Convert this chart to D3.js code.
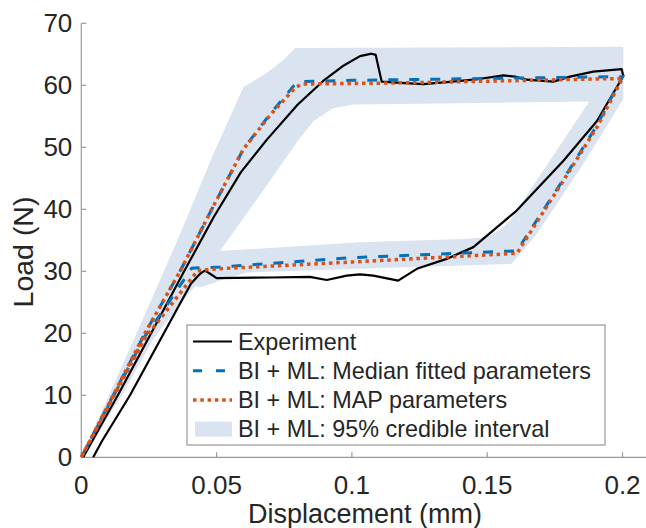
<!DOCTYPE html>
<html>
<head>
<meta charset="utf-8">
<script src="https://cdn.jsdelivr.net/npm/d3@7"></script>
<style>
html,body{margin:0;padding:0;background:#fff;}
svg{display:block;font-family:"Liberation Sans",Arial,Helvetica,sans-serif;}
</style>
</head>
<body>
<svg id="chart" width="646" height="528"></svg>
<script>
// ---- data ----
const xTicks = [0, 0.05, 0.1, 0.15, 0.2];
const xTickLabels = ["0", "0.05", "0.1", "0.15", "0.2"];
const yTicks = [0, 10, 20, 30, 40, 50, 60, 70];
const yTickLabels = ["0", "10", "20", "30", "40", "50", "60", "70"];

// Experiment (loading -> plateau -> unloading -> lower plateau -> back to zero)
const expX = [0.0007,0.0135,0.0258,0.038,0.049,0.059,0.0685,0.08,0.0894,0.097,0.103,0.1073,0.1088,0.111,0.118,0.1264,0.135,0.145,0.156,0.1603,0.1646,0.1744,0.1806,0.1892,0.1997,0.2003,
  0.1905,0.1781,0.1609,0.1449,0.135,0.124,0.1171,0.1079,0.103,0.0981,0.0907,0.0845,0.07,0.05,0.0476,0.0457,0.0439,0.0405,0.0305,0.018,0.0075,0.0044];
const expY = [0,10,20,30,38.8,46,51.2,56.9,60.7,63.2,64.7,65.1,64.9,60.6,60.4,60.2,60.5,60.9,61.6,61.4,60.9,60.6,61.4,62.2,62.6,61.5,
  54.2,47.8,39.8,33.9,32.0,30.4,28.5,29.3,29.5,29.3,28.6,29.1,29.0,28.9,29.6,30.1,29.6,28,20,10,2.5,0];

// BI + ML: Median fitted parameters
const medX = [0,0.0118,0.0235,0.0365,0.0482,0.0599,0.07,0.0785,0.0808,0.1,0.15,0.2,0.1985,0.1905,0.1781,0.161,0.1,0.0513,0.0408,0.03,0.0235,0.0118,0];
const medY = [0,10,20,30,40,49.7,55.5,59.9,60.6,60.8,61.1,61.4,60.2,53.5,44.8,33.3,32.2,30.7,30.5,23.5,19.5,9.8,0];

// BI + ML: MAP parameters
const mapX = [0,0.0118,0.0235,0.0365,0.0482,0.0599,0.07,0.079,0.0815,0.12,0.2,0.1985,0.1905,0.1781,0.161,0.1,0.05,0.043,0.03,0.0235,0.0118,0];
const mapY = [0,10,20,30,40,49.7,55.3,59.6,60.2,60.4,61.1,59.9,53.2,44.6,32.9,31.5,30.4,30.1,22.8,19.2,9.7,0];

// BI + ML: 95% credible interval (outer boundary and inner hole)
const ciOuterX = [0,0.0242,0.0365,0.0488,0.0599,0.0685,0.0745,0.079,0.2003,0.2003,0.1855,0.1683,0.159,0.103,0.0611,0.0513,0.0439,0.042,0.0272,0.0143,0];
const ciOuterY = [0,23.7,36,48.9,59.7,62,64,66,66.2,57.8,47.3,36.0,31.2,30.4,29.8,28.5,27.4,27.6,19.5,9.5,0];
const ciInnerX = [0.0513,0.0655,0.08,0.0857,0.093,0.1005,0.14,0.1877,0.1584,0.1559,0.15,0.1412,0.103,0.0525];
const ciInnerY = [33.3,42,51,54.2,56.3,56.9,57.1,57.4,38.2,37.1,35.5,35.2,34.7,33.3];

const legendLabels = ["Experiment","BI + ML: Median fitted parameters","BI + ML: MAP parameters","BI + ML: 95% credible interval"];

// ---- colours ----
const cBlue = "#0072BD", cRed = "#D95319", cBand = "#DAE3F0", cAxis = "#9a9a9a", cText = "#262626";

const svg = d3.select("#chart");
const x = d3.scaleLinear().domain([0, 0.2]).range([81.3, 622.5]);
const y = d3.scaleLinear().domain([0, 70]).range([457.3, 23.3]);

const zip = (a, b) => a.map((v, i) => [v, b[i]]);
const line = d3.line().x(d => x(d[0])).y(d => y(d[1]));

// credible interval band (even-odd hole)
const outerPts = zip(ciOuterX, ciOuterY), innerPts = zip(ciInnerX, ciInnerY);
svg.append("path")
  .attr("d", line(outerPts) + "Z" + line(innerPts) + "Z")
  .attr("fill", cBand).attr("fill-rule", "evenodd").attr("stroke", "none");

// axes
const gx = svg.append("g").attr("transform", `translate(0,${y(0)})`);
gx.append("line").attr("x1", x(0)).attr("x2", 646).attr("stroke", cAxis).attr("stroke-width", 1.2);
gx.selectAll("line.t").data(xTicks).join("line").attr("class","t")
  .attr("x1", d => x(d)).attr("x2", d => x(d)).attr("y1", 0).attr("y2", -5)
  .attr("stroke", cAxis).attr("stroke-width", 1.2);
gx.selectAll("text").data(xTicks).join("text")
  .attr("x", d => x(d)).attr("y", 36.5).attr("text-anchor", "middle")
  .attr("font-size", 26).attr("fill", cText)
  .text((d, i) => xTickLabels[i]);

const gy = svg.append("g").attr("transform", `translate(${x(0)},0)`);
gy.append("line").attr("y1", y(0)).attr("y2", y(70)).attr("stroke", cAxis).attr("stroke-width", 1.2);
gy.selectAll("line.t").data(yTicks).join("line").attr("class","t")
  .attr("y1", d => y(d)).attr("y2", d => y(d)).attr("x1", 0).attr("x2", 5)
  .attr("stroke", cAxis).attr("stroke-width", 1.2);
gy.selectAll("text").data(yTicks).join("text")
  .attr("x", -9).attr("y", d => y(d)).attr("dy", "0.35em").attr("text-anchor", "end")
  .attr("font-size", 26).attr("fill", cText)
  .text((d, i) => yTickLabels[i]);

// axis labels
svg.append("text").attr("x", 365).attr("y", 522.5).attr("text-anchor", "middle")
  .attr("font-size", 27).attr("fill", cText).text("Displacement (mm)");
svg.append("text").attr("transform", "translate(33,252) rotate(-90)").attr("text-anchor", "middle")
  .attr("font-size", 28.5).attr("fill", cText).text("Load (N)");

// lines
svg.append("path").attr("d", line(zip(expX, expY))).attr("fill", "none")
  .attr("stroke", "#000").attr("stroke-width", 2.2).attr("stroke-linejoin", "round");
svg.append("path").attr("d", line(zip(medX, medY))).attr("fill", "none")
  .attr("stroke", cBlue).attr("stroke-width", 3).attr("stroke-dasharray", "10,11");
svg.append("path").attr("d", line(zip(mapX, mapY))).attr("fill", "none")
  .attr("stroke", cRed).attr("stroke-width", 3.5).attr("stroke-dasharray", "3.5,3.8");

// legend
const lg = svg.append("g");
lg.append("rect").attr("x", 187).attr("y", 325).attr("width", 418).attr("height", 120)
  .attr("fill", "#fff").attr("stroke", cAxis).attr("stroke-width", 1.2);
const rowY = [341.5, 370.7, 399.9, 429.1];
lg.append("line").attr("x1", 193).attr("x2", 232).attr("y1", rowY[0]).attr("y2", rowY[0])
  .attr("stroke", "#000").attr("stroke-width", 2.2);
lg.append("line").attr("x1", 193).attr("x2", 232).attr("y1", rowY[1]).attr("y2", rowY[1])
  .attr("stroke", cBlue).attr("stroke-width", 3).attr("stroke-dasharray", "9,14");
lg.append("line").attr("x1", 193).attr("x2", 232).attr("y1", rowY[2]).attr("y2", rowY[2])
  .attr("stroke", cRed).attr("stroke-width", 3.5).attr("stroke-dasharray", "3.5,3.8");
lg.append("rect").attr("x", 195).attr("y", rowY[3] - 7.5).attr("width", 37).attr("height", 15)
  .attr("fill", cBand);
lg.selectAll("text").data(legendLabels).join("text")
  .attr("x", 238).attr("y", (d, i) => rowY[i]).attr("dy", "0.35em")
  .attr("font-size", 23.4).attr("fill", cText).text(d => d);
</script>
</body>
</html>
